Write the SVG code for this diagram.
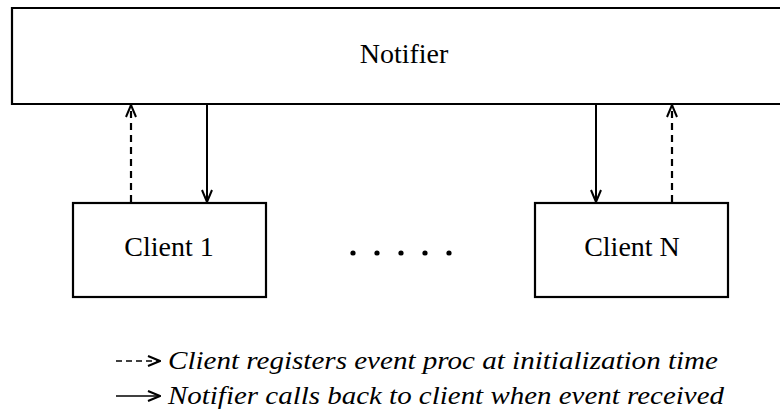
<svg xmlns="http://www.w3.org/2000/svg" width="780" height="414" viewBox="0 0 780 414">
<style>
.box{fill:#fff;stroke:#000;stroke-width:2.2}
.lbl{font-family:"Liberation Serif","Times New Roman",serif;font-size:28px;fill:#000;text-anchor:middle}
.leg{font-family:"Liberation Serif","Times New Roman",serif;font-style:italic;font-size:26px;fill:#000}
.solid{stroke:#000;stroke-width:2;fill:none}
.dash{stroke:#000;stroke-width:2.2;fill:none;stroke-dasharray:7 5}
</style>
<defs>
<marker id="ah" viewBox="0 0 14 12" refX="13" refY="6" markerWidth="14" markerHeight="12" markerUnits="userSpaceOnUse" orient="auto">
<path d="M1,1 L13,6 L1,11" fill="none" stroke="#000" stroke-width="2"/>
</marker>
</defs>
<rect width="780" height="414" fill="#fff"/>
<g id="notifier">
<path class="box" d="M790,8 H12 V104 H790"/>
<text class="lbl" x="404" y="63">Notifier</text>
</g>
<g id="client1">
<rect class="box" x="73" y="203" width="193" height="94"/>
<text class="lbl" x="169" y="256">Client 1</text>
</g>
<g id="clientN">
<rect class="box" x="535" y="203" width="193" height="94"/>
<text class="lbl" x="632" y="256">Client N</text>
</g>
<g id="ellipsis">
<circle cx="353" cy="253" r="2.6"/>
<circle cx="377" cy="253" r="2.6"/>
<circle cx="401" cy="253" r="2.6"/>
<circle cx="425" cy="253" r="2.6"/>
<circle cx="449" cy="253" r="2.6"/>
</g>
<g id="connectors">
<line class="dash" x1="131" y1="202" x2="131" y2="105" marker-end="url(#ah)"/>
<line class="solid" x1="207" y1="105" x2="207" y2="202" marker-end="url(#ah)"/>
<line class="solid" x1="596" y1="105" x2="596" y2="202" marker-end="url(#ah)"/>
<line class="dash" x1="672" y1="202" x2="672" y2="105" marker-end="url(#ah)"/>
</g>
<g id="legend">
<line x1="116" y1="361" x2="160" y2="361" stroke="#000" stroke-width="1.6" stroke-dasharray="6 4" marker-end="url(#ah)"/>
<text class="leg" x="168" y="369" textLength="550" lengthAdjust="spacingAndGlyphs">Client registers event proc at initialization time</text>
<line x1="116" y1="396" x2="160" y2="396" stroke="#000" stroke-width="1.6" marker-end="url(#ah)"/>
<text class="leg" x="168" y="404" textLength="556" lengthAdjust="spacingAndGlyphs">Notifier calls back to client when event received</text>
</g>
</svg>
